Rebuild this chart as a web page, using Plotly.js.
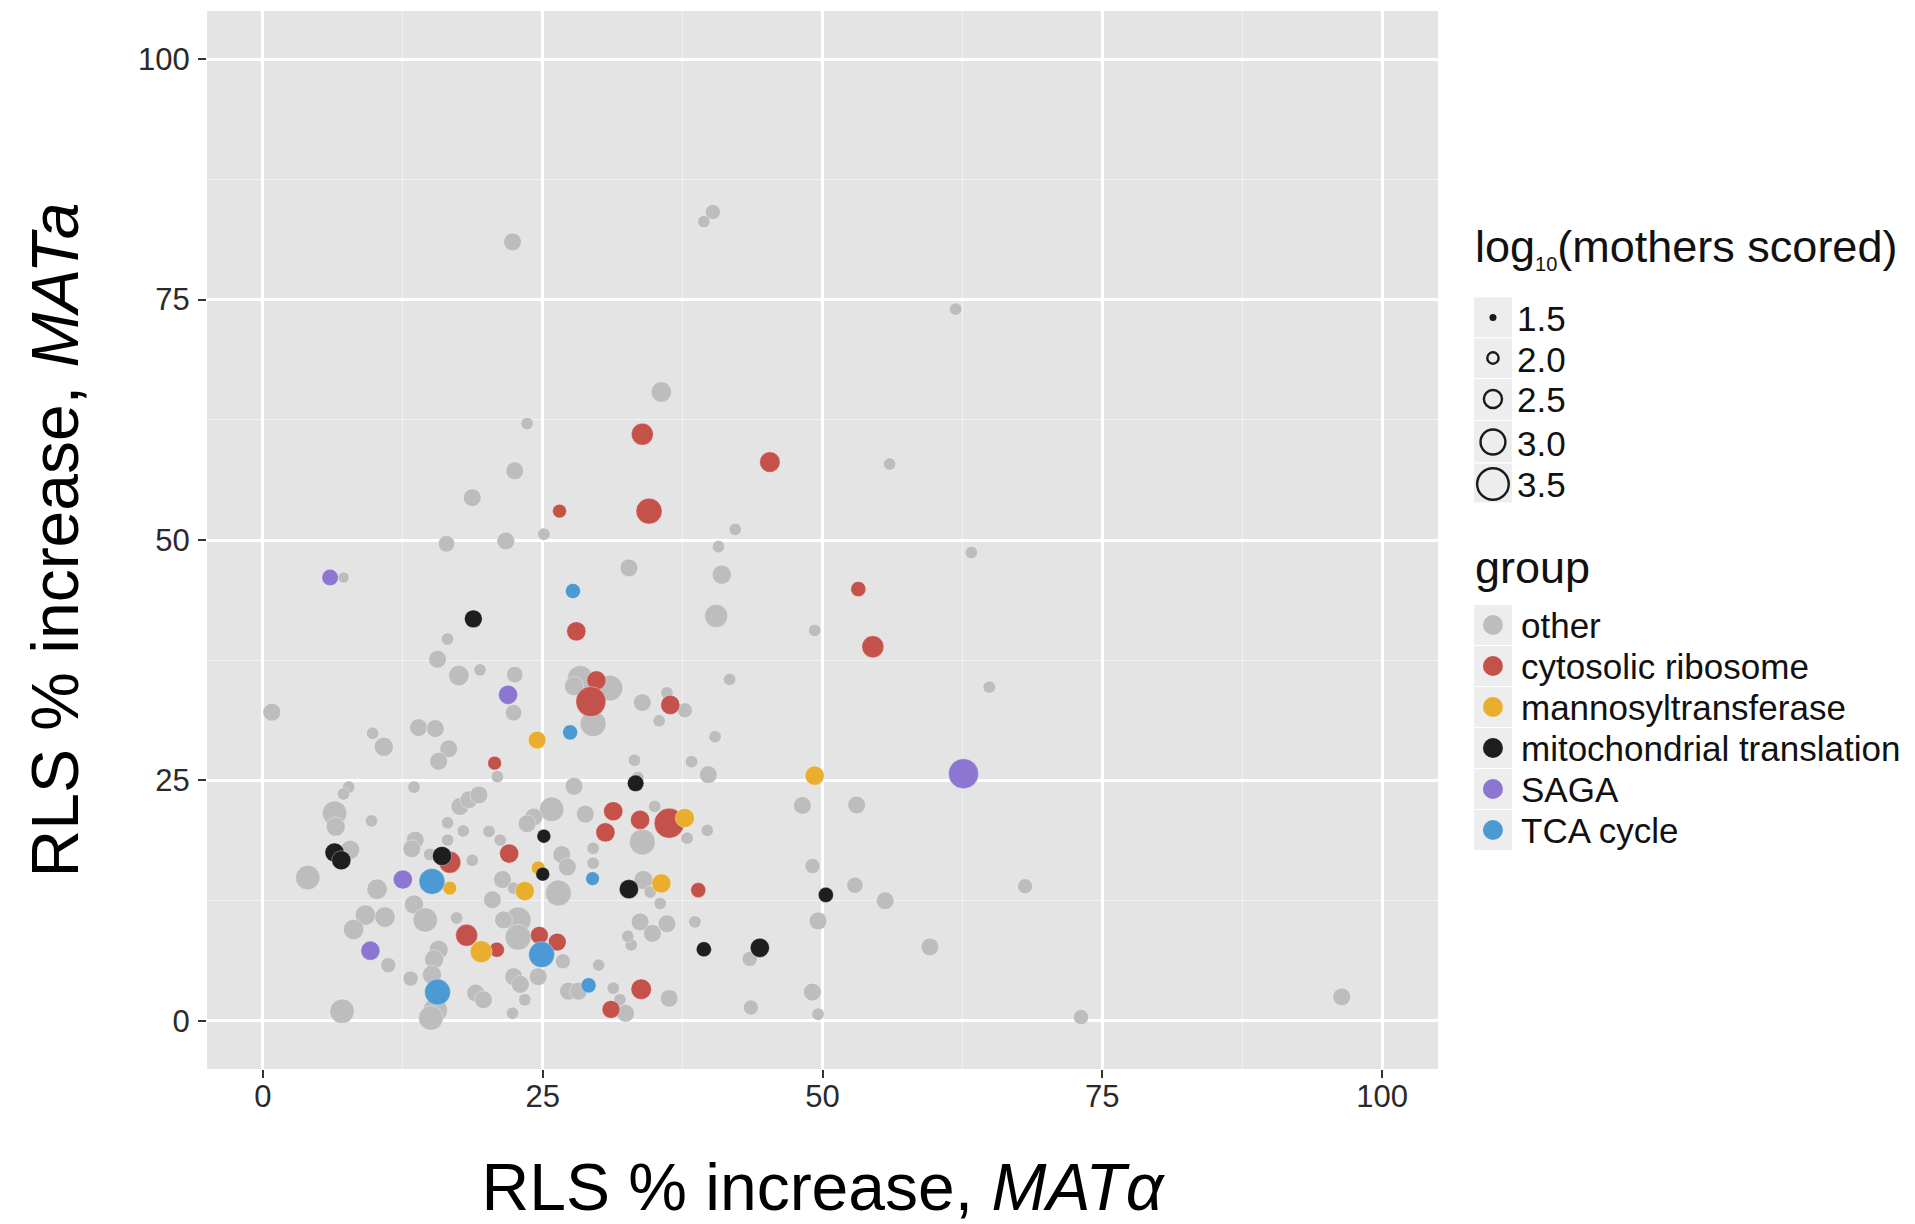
<!DOCTYPE html>
<html>
<head>
<meta charset="utf-8">
<script src="https://cdn.plot.ly/plotly-3.0.1.min.js"></script>
<style>
  html, body { margin: 0; padding: 0; background: #ffffff; }
  #chart { width: 1915px; height: 1224px; }
</style>
</head>
<body>
<div id="chart"></div>
<script>
// ---------------- DATA ----------------
const groupNames = ["other", "cytosolic ribosome", "mannosyltransferase", "mitochondrial translation", "SAGA", "TCA cycle"];
const groupColors = ["#BDBDBD", "#C4514A", "#EAAE2E", "#1E1E1E", "#8C76D2", "#4C9AD4"];
const sizeLegendValues = [1.5, 2.0, 2.5, 3.0, 3.5];
const sizeLegendLabels = ["1.5", "2.0", "2.5", "3.0", "3.5"];
const xTickVals = [0, 25, 50, 75, 100];
const yTickVals = [0, 25, 50, 75, 100];

// other
const otherX = [22.3,40.2,39.4,35.6,23.6,56.0,22.5,18.7,42.2,25.1,21.7,16.4,40.7,7.2,32.7,41.0,40.5,49.3,63.3,16.5,
  15.6,19.4,17.5,22.5,41.7,28.35,27.8,31.0,29.5,22.4,0.8,33.9,36.1,37.7,35.4,40.4,13.9,15.4,9.8,10.8,
  16.6,15.7,20.95,33.2,38.3,39.8,33.5,27.8,64.9,61.9,7.66,7.2,13.5,6.4,6.5,9.7,17.6,18.4,19.3,16.5,
  17.9,13.6,13.3,16.5,7.8,14.9,18.7,4.0,10.2,9.15,8.1,10.9,13.5,14.5,17.3,11.2,15.7,15.3,13.2,15.1,
  15.4,15.0,7.07,19.0,19.7,25.8,24.2,23.6,28.8,35.0,39.7,37.9,33.9,20.2,21.2,29.5,29.5,26.7,27.2,34.0,
  34.6,35.5,21.4,22.4,26.4,20.5,22.8,22.8,21.5,26.8,22.4,23.0,24.6,23.4,22.3,30.0,27.3,28.2,31.3,31.9,
  32.4,36.3,33.7,34.8,36.1,32.9,32.6,38.6,48.2,53.05,49.1,52.9,55.6,49.6,43.5,59.6,49.1,43.6,49.6,68.1,
  73.1,96.4];
const otherY = [81.0,84.1,83.1,65.4,62.1,57.9,57.2,54.4,51.1,50.6,49.9,49.6,49.3,46.1,47.1,46.4,42.1,40.6,48.7,39.7,
  37.6,36.5,35.9,36.0,35.5,35.6,34.8,34.6,30.9,32.05,32.1,33.1,34.1,32.3,31.2,29.55,30.5,30.4,29.9,28.5,
  28.3,27.0,25.4,27.1,26.95,25.6,25.3,24.4,34.7,74.0,24.3,23.6,24.3,21.6,20.2,20.8,22.3,23.0,23.5,20.6,
  19.75,18.8,17.9,18.8,17.8,17.3,16.7,14.9,13.7,11.0,9.5,10.8,12.1,10.5,10.7,5.8,7.4,6.4,4.4,4.8,
  1.1,0.3,1.0,2.9,2.2,22.0,21.2,20.5,21.5,22.3,19.8,19.0,18.6,19.7,18.8,17.95,16.4,17.3,16.0,14.65,
  13.4,12.2,14.7,13.8,13.3,12.6,10.5,8.7,10.5,6.2,4.6,3.8,4.6,2.2,0.8,5.8,3.1,3.1,3.4,2.2,
  0.8,2.35,10.3,9.1,10.1,7.9,8.8,10.3,22.4,22.45,16.1,14.1,12.5,10.4,6.45,7.7,3.0,1.4,0.7,14.0,
  0.4,2.5];
const otherLog = [2.3,2.1,1.9,2.5,1.9,1.9,2.3,2.3,1.9,1.9,2.3,2.2,1.9,1.8,2.3,2.4,2.7,1.9,1.9,1.9,
  2.3,1.9,2.5,2.2,1.9,2.9,2.4,2.9,2.9,2.2,2.3,2.3,1.9,2.1,1.9,1.9,2.3,2.3,1.9,2.4,
  2.3,2.3,1.9,1.9,1.9,2.3,1.9,2.3,1.9,1.9,1.9,1.9,1.9,2.8,2.4,1.9,2.3,2.3,2.3,1.9,
  1.9,2.3,2.3,1.9,2.4,1.9,1.9,2.8,2.5,2.5,2.5,2.5,2.4,2.8,1.9,2.1,2.4,2.4,2.1,2.4,
  2.8,2.8,2.8,2.3,2.3,2.8,2.3,2.3,2.3,1.9,1.9,1.9,2.9,1.9,1.9,1.9,1.9,2.3,2.3,2.4,
  1.9,1.9,2.3,1.9,2.9,2.3,2.9,2.9,2.3,2.1,2.3,2.3,2.3,1.9,1.9,1.9,2.3,2.3,1.9,1.9,
  2.3,2.3,2.3,2.3,2.3,1.9,1.9,1.9,2.3,2.3,2.1,2.2,2.3,2.3,2.1,2.3,2.3,2.1,1.9,2.1,
  2.1,2.3];

// cytosolic ribosome
const riboX = [33.9,45.3,26.5,34.5,53.2,28.0,54.5,29.8,29.3,36.4,20.7,31.3,33.7,36.3,30.6,22.0,16.7,38.9,18.2,20.9,24.7,26.3,33.8,31.1];
const riboY = [61.0,58.1,53.0,53.0,44.9,40.5,38.9,35.4,33.2,32.85,26.8,21.8,20.9,20.55,19.6,17.4,16.5,13.6,8.9,7.4,8.9,8.2,3.3,1.2];
const riboLog = [2.6,2.5,2.0,2.9,2.1,2.4,2.6,2.4,3.2,2.4,2.0,2.4,2.4,3.2,2.4,2.4,2.6,2.1,2.6,2.1,2.3,2.3,2.5,2.3];

// mannosyltransferase
const mannX = [24.5,49.3,37.7,24.6,23.4,35.6,14.6,16.7,19.5];
const mannY = [29.2,25.5,21.1,15.9,13.5,14.3,14.8,13.8,7.2];
const mannLog = [2.3,2.4,2.4,2.0,2.4,2.4,2.0,2.0,2.6];

// mitochondrial translation
const mitoX = [18.8,33.3,25.1,25.0,6.4,7.0,16.0,32.7,50.3,39.4,44.4];
const mitoY = [41.8,24.7,19.2,15.25,17.5,16.7,17.15,13.7,13.1,7.45,7.6];
const mitoLog = [2.3,2.2,2.0,2.0,2.4,2.4,2.4,2.4,2.1,2.1,2.4];

// SAGA
const sagaX = [6.0,21.9,12.5,9.6,62.6];
const sagaY = [46.1,33.9,14.7,7.3,25.7];
const sagaLog = [2.2,2.4,2.4,2.4,3.2];

// TCA cycle
const tcaX = [27.7,27.45,29.45,15.1,24.9,15.6,29.1];
const tcaY = [44.7,30.0,14.8,14.5,6.9,3.0,3.7];
const tcaLog = [2.1,2.1,2.0,2.9,2.9,2.9,2.1];

// ---------------- CHART ----------------
const FONT = "Liberation Sans, Arial, Helvetica, sans-serif";
const sizeFn = v => 13.5 * (v - 0.98);   // marker diameter in px from log10(mothers scored)

const seriesX = [otherX, riboX, mannX, mitoX, sagaX, tcaX];
const seriesY = [otherY, riboY, mannY, mitoY, sagaY, tcaY];
const seriesLog = [otherLog, riboLog, mannLog, mitoLog, sagaLog, tcaLog];

const traces = groupNames.map((name, i) => ({
  type: "scatter",
  mode: "markers",
  name: name,
  x: seriesX[i],
  y: seriesY[i],
  showlegend: false,
  hoverinfo: "x+y+name",
  marker: {
    color: groupColors[i],
    size: seriesLog[i].map(sizeFn),
    opacity: 1,
    line: { color: "rgba(255,255,255,0.35)", width: 1 }
  }
}));

// plot-area geometry (px)
const PL = 206.5, PR = 1438.5, PT = 11, PB = 1069;
const PW = PR - PL, PH = PB - PT;
const px = v => (v - PL) / PW;
const py = v => (PB - v) / PH;

const shapes = [];
const annotations = [];

// size legend
const keyX0 = 1474, keyX1 = 1513, keyCX = 1493.5;
const sizeRowCenters = [317.5, 358, 399, 442, 484];
const sizeRowEdges = [297, 338, 378.5, 420.5, 463, 503];
for (let i = 0; i < 5; i++) {
  shapes.push({ type: "rect", xref: "paper", yref: "paper", layer: "below",
    x0: px(keyX0), x1: px(keyX1), y0: py(sizeRowEdges[i + 1]), y1: py(sizeRowEdges[i]),
    fillcolor: "#EDEDED", line: { color: "#FFFFFF", width: 1 } });
  const d = sizeFn(sizeLegendValues[i]);
  const r = i === 0 ? d / 2 : d / 2 - 1.2;
  const cy = sizeRowCenters[i];
  shapes.push({ type: "circle", xref: "paper", yref: "paper",
    x0: px(keyCX - r), x1: px(keyCX + r), y0: py(cy + r), y1: py(cy - r),
    fillcolor: i === 0 ? "#1a1a1a" : "rgba(0,0,0,0)",
    line: { color: "#1a1a1a", width: i === 0 ? 0 : 2.4 } });
  annotations.push({ xref: "paper", yref: "paper", x: px(1516), y: py(cy + 1),
    xanchor: "left", yanchor: "middle", showarrow: false, text: sizeLegendLabels[i],
    font: { family: FONT, size: 35, color: "#111" } });
}
annotations.push({ xref: "paper", yref: "paper", x: px(1474), y: py(248),
  xanchor: "left", yanchor: "middle", showarrow: false,
  text: "log<sub><span style=\"font-size:20px\">10</span></sub>(mothers scored)",
  font: { family: FONT, size: 45, color: "#111" } });

// group legend
const groupRowCenters = [625, 666, 707, 748, 789, 830];
annotations.push({ xref: "paper", yref: "paper", x: px(1474), y: py(567),
  xanchor: "left", yanchor: "middle", showarrow: false,
  text: "group", font: { family: FONT, size: 45, color: "#111" } });
for (let i = 0; i < groupNames.length; i++) {
  const cy = groupRowCenters[i];
  shapes.push({ type: "rect", xref: "paper", yref: "paper", layer: "below",
    x0: px(keyX0), x1: px(keyX1), y0: py(cy + 20.5), y1: py(cy - 20.5),
    fillcolor: "#EDEDED", line: { color: "#FFFFFF", width: 1 } });
  const r = 10;
  shapes.push({ type: "circle", xref: "paper", yref: "paper",
    x0: px(keyCX - r), x1: px(keyCX + r), y0: py(cy + r), y1: py(cy - r),
    fillcolor: groupColors[i], line: { width: 0 } });
  annotations.push({ xref: "paper", yref: "paper", x: px(1520), y: py(cy),
    xanchor: "left", yanchor: "middle", showarrow: false, text: groupNames[i],
    font: { family: FONT, size: 35, color: "#111" } });
}

const axisCommon = {
  range: [-5, 105],
  tickmode: "array",
  ticks: "outside",
  ticklen: 8,
  tickwidth: 2,
  tickcolor: "#333333",
  tickfont: { family: FONT, size: 31, color: "#2a2a2a" },
  showgrid: true,
  gridcolor: "#FFFFFF",
  gridwidth: 2.5,
  zeroline: false,
  showline: false,
  minor: { tickmode: "linear", tick0: 0, dtick: 12.5, showgrid: true, gridcolor: "#F1F1F1", gridwidth: 1.2, ticks: "" }
};

const layout = {
  width: 1915,
  height: 1224,
  paper_bgcolor: "#FFFFFF",
  plot_bgcolor: "#E4E4E4",
  margin: { l: PL, r: 1915 - PR, t: PT, b: 1224 - PB, pad: 0 },
  font: { family: FONT },
  showlegend: false,
  hovermode: "closest",
  xaxis: Object.assign({}, axisCommon, {
    tickvals: xTickVals,
    ticktext: xTickVals.map(String),
    ticklabelstandoff: -8,
    title: { text: "RLS % increase, <i>MATα</i>", font: { family: FONT, size: 66, color: "#000" }, standoff: 53 }
  }),
  yaxis: Object.assign({}, axisCommon, {
    tickvals: yTickVals,
    ticktext: yTickVals.map(String),
    ticklabelstandoff: 2,
    title: { text: "RLS % increase, <i>MATa</i>", font: { family: FONT, size: 66, color: "#000" }, standoff: 37 }
  }),
  shapes: shapes,
  annotations: annotations
};

Plotly.newPlot("chart", traces, layout, { displayModeBar: false, responsive: false });
</script>
</body>
</html>
